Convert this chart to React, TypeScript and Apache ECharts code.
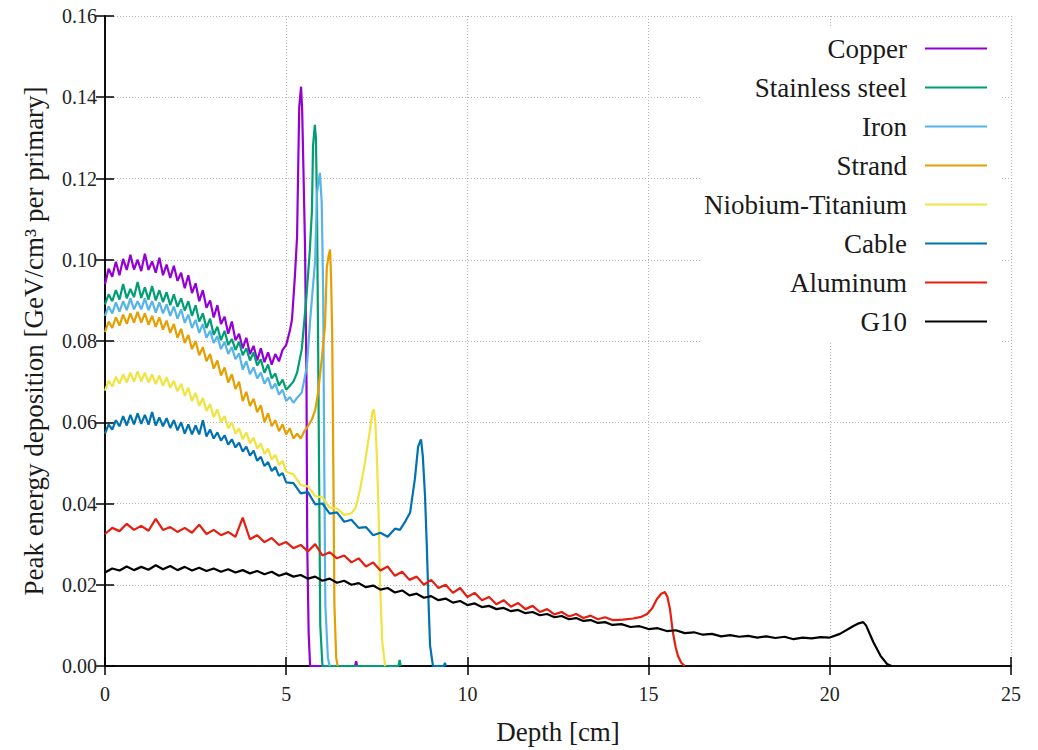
import React, { useEffect, useRef } from "react";
import * as echarts from "echarts";

const FONT = "Liberation Serif";

const seriesNames = [
  "Copper",
  "Stainless steel",
  "Iron",
  "Strand",
  "Niobium-Titanium",
  "Cable",
  "Aluminum",
  "G10",
];
const seriesColors = ["#9400d3", "#009e73", "#56b4e9", "#e69f00", "#f0e442", "#0072b2", "#e51e10", "#000000"];

type Pt = [number, number];

const copper: Pt[] = [
  [0.0, 0.094], [0.1, 0.0978], [0.2, 0.0958], [0.3, 0.0995], [0.4, 0.0962], [0.5, 0.1002], [0.6, 0.0975], [0.7, 0.1012],
  [0.8, 0.0976], [0.9, 0.1], [1.0, 0.0972], [1.1, 0.1015], [1.2, 0.0975], [1.3, 0.0996], [1.4, 0.0968], [1.5, 0.1005],
  [1.6, 0.0962], [1.7, 0.0988], [1.8, 0.0955], [1.9, 0.0985], [2.0, 0.0948], [2.1, 0.0968], [2.2, 0.093], [2.3, 0.0962],
  [2.4, 0.0918], [2.5, 0.0942], [2.6, 0.0898], [2.7, 0.0925], [2.8, 0.0882], [2.9, 0.09], [3.0, 0.0858], [3.1, 0.0888],
  [3.2, 0.0842], [3.3, 0.086], [3.4, 0.0818], [3.5, 0.0848], [3.6, 0.0802], [3.7, 0.0818], [3.8, 0.0782], [3.9, 0.0808],
  [4.0, 0.0768], [4.1, 0.0788], [4.2, 0.0752], [4.3, 0.0782], [4.4, 0.0748], [4.5, 0.0772], [4.6, 0.0742], [4.7, 0.0768],
  [4.8, 0.075], [4.9, 0.0778], [5.0, 0.079], [5.1, 0.0825], [5.16, 0.0853], [5.24, 0.0959], [5.3, 0.1057], [5.33, 0.122],
  [5.36, 0.1377], [5.41, 0.1426], [5.44, 0.137], [5.47, 0.1246], [5.52, 0.103], [5.56, 0.07], [5.58, 0.03], [5.62, 0.008],
  [5.66, 0.0], [6.9, 0.0], [6.93, 0.0012], [6.96, 0.0],
];

const stainless: Pt[] = [
  [0.0, 0.089], [0.1, 0.0915], [0.2, 0.0898], [0.3, 0.0925], [0.4, 0.0902], [0.5, 0.094], [0.6, 0.0905], [0.7, 0.0928],
  [0.8, 0.0908], [0.9, 0.0945], [1.0, 0.0906], [1.1, 0.0932], [1.2, 0.0902], [1.3, 0.0935], [1.4, 0.09], [1.5, 0.0925],
  [1.6, 0.0896], [1.7, 0.092], [1.8, 0.0888], [1.9, 0.0915], [2.0, 0.0884], [2.1, 0.0905], [2.2, 0.0875], [2.3, 0.0898],
  [2.4, 0.0862], [2.5, 0.0888], [2.6, 0.0848], [2.7, 0.0868], [2.8, 0.0832], [2.9, 0.0855], [3.0, 0.0815], [3.1, 0.0835],
  [3.2, 0.0802], [3.3, 0.0825], [3.4, 0.079], [3.5, 0.0805], [3.6, 0.0778], [3.7, 0.0798], [3.8, 0.0765], [3.9, 0.0782],
  [4.0, 0.0752], [4.1, 0.0772], [4.2, 0.074], [4.3, 0.0755], [4.4, 0.0722], [4.5, 0.0742], [4.6, 0.0708], [4.7, 0.072],
  [4.8, 0.069], [4.9, 0.0705], [5.0, 0.068], [5.1, 0.069], [5.2, 0.07], [5.3, 0.0722], [5.43, 0.078], [5.55, 0.09],
  [5.65, 0.102], [5.71, 0.112], [5.74, 0.128], [5.79, 0.1332], [5.82, 0.13], [5.85, 0.113], [5.88, 0.08], [5.91, 0.045],
  [5.94, 0.01], [6.0, 0.0], [8.1, 0.0], [8.13, 0.0015], [8.16, 0.0],
];

const iron: Pt[] = [
  [0.0, 0.0862], [0.1, 0.0885], [0.2, 0.0868], [0.3, 0.0895], [0.4, 0.0872], [0.5, 0.0898], [0.6, 0.0876], [0.7, 0.0905],
  [0.8, 0.0878], [0.9, 0.0898], [1.0, 0.0878], [1.1, 0.0905], [1.2, 0.0876], [1.3, 0.0898], [1.4, 0.087], [1.5, 0.0895],
  [1.6, 0.0868], [1.7, 0.089], [1.8, 0.0862], [1.9, 0.0885], [2.0, 0.0855], [2.1, 0.0878], [2.2, 0.0845], [2.3, 0.0865],
  [2.4, 0.0832], [2.5, 0.0852], [2.6, 0.082], [2.7, 0.0842], [2.8, 0.0808], [2.9, 0.0825], [3.0, 0.0795], [3.1, 0.0812],
  [3.2, 0.078], [3.3, 0.0798], [3.4, 0.0768], [3.5, 0.0785], [3.6, 0.0755], [3.7, 0.077], [3.8, 0.073], [3.9, 0.075],
  [4.0, 0.0718], [4.1, 0.0735], [4.2, 0.0708], [4.3, 0.0722], [4.4, 0.0695], [4.5, 0.071], [4.6, 0.0682], [4.7, 0.0695],
  [4.8, 0.0668], [4.9, 0.068], [5.0, 0.0652], [5.1, 0.0662], [5.2, 0.0648], [5.3, 0.066], [5.43, 0.0673], [5.57, 0.0737],
  [5.66, 0.085], [5.8, 0.1], [5.85, 0.1165], [5.93, 0.1214], [5.98, 0.114], [6.02, 0.092], [6.05, 0.05], [6.08, 0.015],
  [6.15, 0.002], [6.2, 0.0],
];

const strand: Pt[] = [
  [0.0, 0.0822], [0.1, 0.0848], [0.2, 0.0832], [0.3, 0.0858], [0.4, 0.0838], [0.5, 0.0865], [0.6, 0.0842], [0.7, 0.0868],
  [0.8, 0.0845], [0.9, 0.0872], [1.0, 0.0845], [1.1, 0.0868], [1.2, 0.084], [1.3, 0.0862], [1.4, 0.0835], [1.5, 0.0858],
  [1.6, 0.0828], [1.7, 0.085], [1.8, 0.082], [1.9, 0.0842], [2.0, 0.0808], [2.1, 0.083], [2.2, 0.0795], [2.3, 0.0815],
  [2.4, 0.078], [2.5, 0.08], [2.6, 0.0765], [2.7, 0.0785], [2.8, 0.075], [2.9, 0.0768], [3.0, 0.0732], [3.1, 0.0752],
  [3.2, 0.0715], [3.3, 0.0735], [3.4, 0.0698], [3.5, 0.0718], [3.6, 0.0682], [3.7, 0.07], [3.8, 0.0652], [3.9, 0.0675],
  [4.0, 0.064], [4.1, 0.0658], [4.2, 0.0625], [4.3, 0.0642], [4.4, 0.06], [4.5, 0.0622], [4.6, 0.059], [4.7, 0.0605],
  [4.8, 0.0578], [4.9, 0.0595], [5.0, 0.057], [5.1, 0.0585], [5.2, 0.056], [5.3, 0.0572], [5.4, 0.056], [5.5, 0.0578],
  [5.6, 0.059], [5.71, 0.0607], [5.8, 0.063], [5.88, 0.0673], [5.98, 0.0755], [6.07, 0.0836], [6.12, 0.098], [6.17, 0.101],
  [6.21, 0.1025], [6.24, 0.095], [6.27, 0.081], [6.3, 0.05], [6.33, 0.015], [6.38, 0.002], [6.42, 0.0],
];

const niobiumTitanium: Pt[] = [
  [0.0, 0.0678], [0.1, 0.0702], [0.2, 0.0688], [0.3, 0.0712], [0.4, 0.0695], [0.5, 0.0718], [0.6, 0.0698], [0.7, 0.0722],
  [0.8, 0.07], [0.9, 0.0725], [1.0, 0.07], [1.1, 0.0722], [1.2, 0.0698], [1.3, 0.0718], [1.4, 0.0694], [1.5, 0.0715],
  [1.6, 0.069], [1.7, 0.071], [1.8, 0.0685], [1.9, 0.0702], [2.0, 0.0676], [2.1, 0.0695], [2.2, 0.0665], [2.3, 0.0685],
  [2.4, 0.0652], [2.5, 0.0672], [2.6, 0.064], [2.7, 0.066], [2.8, 0.0628], [2.9, 0.0645], [3.0, 0.0612], [3.1, 0.0632],
  [3.2, 0.06], [3.3, 0.0615], [3.4, 0.0585], [3.5, 0.06], [3.6, 0.0572], [3.7, 0.0585], [3.8, 0.0558], [3.9, 0.0575],
  [4.0, 0.0548], [4.1, 0.0562], [4.2, 0.0535], [4.3, 0.0548], [4.4, 0.0522], [4.5, 0.0535], [4.6, 0.0508], [4.7, 0.052],
  [4.8, 0.0495], [4.9, 0.0505], [5.0, 0.0478], [5.2, 0.0472], [5.4, 0.0445], [5.6, 0.0442], [5.8, 0.0418], [6.0, 0.0415],
  [6.2, 0.039], [6.4, 0.0388], [6.6, 0.0372], [6.8, 0.0376], [6.92, 0.039], [7.04, 0.0435], [7.17, 0.05], [7.31, 0.058],
  [7.38, 0.0625], [7.42, 0.0632], [7.46, 0.06], [7.5, 0.052], [7.55, 0.038], [7.59, 0.02], [7.65, 0.006], [7.73, 0.0],
];

const cable: Pt[] = [
  [0.0, 0.0572], [0.1, 0.0595], [0.2, 0.0582], [0.3, 0.0605], [0.4, 0.059], [0.5, 0.0615], [0.6, 0.0592], [0.7, 0.0618],
  [0.8, 0.0595], [0.9, 0.0622], [1.0, 0.0596], [1.1, 0.0618], [1.2, 0.0594], [1.3, 0.0625], [1.4, 0.0592], [1.5, 0.0612],
  [1.6, 0.059], [1.7, 0.061], [1.8, 0.0586], [1.9, 0.0605], [2.0, 0.058], [2.1, 0.06], [2.2, 0.0572], [2.3, 0.0595],
  [2.4, 0.057], [2.5, 0.0592], [2.6, 0.057], [2.7, 0.0605], [2.8, 0.0565], [2.9, 0.0582], [3.0, 0.056], [3.1, 0.0575],
  [3.2, 0.0555], [3.3, 0.0568], [3.4, 0.0545], [3.5, 0.0558], [3.6, 0.0538], [3.7, 0.055], [3.8, 0.0528], [3.9, 0.054],
  [4.0, 0.0518], [4.1, 0.053], [4.2, 0.0505], [4.3, 0.0515], [4.4, 0.0492], [4.5, 0.0502], [4.6, 0.048], [4.7, 0.049],
  [4.8, 0.0468], [4.9, 0.0475], [5.0, 0.0452], [5.2, 0.045], [5.4, 0.0425], [5.6, 0.0428], [5.8, 0.0398], [6.0, 0.04],
  [6.2, 0.0375], [6.4, 0.0378], [6.6, 0.0355], [6.8, 0.036], [7.0, 0.034], [7.2, 0.0342], [7.4, 0.0322], [7.6, 0.0328],
  [7.8, 0.0318], [8.0, 0.0338], [8.14, 0.0335], [8.3, 0.0358], [8.42, 0.0378], [8.55, 0.046], [8.64, 0.054], [8.72, 0.0558],
  [8.77, 0.0516], [8.83, 0.042], [8.88, 0.0295], [8.93, 0.015], [8.97, 0.005], [9.05, 0.0], [9.35, 0.0], [9.38, 0.0008],
  [9.41, 0.0],
];

const aluminum: Pt[] = [
  [0.0, 0.0325], [0.2, 0.034], [0.4, 0.0332], [0.6, 0.035], [0.8, 0.0335], [1.0, 0.0345], [1.2, 0.0333], [1.4, 0.0362],
  [1.6, 0.0335], [1.8, 0.0342], [2.0, 0.033], [2.2, 0.034], [2.4, 0.0328], [2.6, 0.0348], [2.8, 0.0325], [3.0, 0.0335],
  [3.2, 0.0322], [3.4, 0.033], [3.6, 0.0318], [3.8, 0.0365], [4.0, 0.0312], [4.2, 0.0322], [4.4, 0.0305], [4.6, 0.0315],
  [4.8, 0.0298], [5.0, 0.0305], [5.2, 0.029], [5.4, 0.0298], [5.6, 0.0282], [5.8, 0.03], [6.0, 0.0272], [6.2, 0.028],
  [6.4, 0.0265], [6.6, 0.0272], [6.8, 0.0255], [7.0, 0.0265], [7.2, 0.0245], [7.4, 0.0255], [7.6, 0.0235], [7.8, 0.0245],
  [8.0, 0.0222], [8.2, 0.0232], [8.4, 0.0212], [8.6, 0.022], [8.8, 0.02], [9.0, 0.0212], [9.2, 0.0192], [9.4, 0.02],
  [9.6, 0.018], [9.8, 0.0192], [10.0, 0.017], [10.2, 0.018], [10.4, 0.0162], [10.6, 0.017], [10.8, 0.0152], [11.0, 0.0162],
  [11.2, 0.0146], [11.4, 0.0155], [11.6, 0.014], [11.8, 0.0148], [12.0, 0.0133], [12.2, 0.014], [12.4, 0.0127], [12.6, 0.0133],
  [12.8, 0.0122], [13.0, 0.0128], [13.2, 0.0118], [13.4, 0.0124], [13.6, 0.0115], [13.8, 0.012], [14.0, 0.0113], [14.3, 0.0114],
  [14.57, 0.0117], [14.8, 0.0121], [14.96, 0.0128], [15.1, 0.0142], [15.23, 0.0165], [15.35, 0.0178], [15.45, 0.0182], [15.52, 0.017],
  [15.59, 0.014], [15.67, 0.0083], [15.75, 0.0045], [15.81, 0.0025], [15.9, 0.0008], [16.0, 0.0],
];

const g10: Pt[] = [
  [0.0, 0.023], [0.2, 0.024], [0.4, 0.0235], [0.6, 0.0245], [0.8, 0.0236], [1.0, 0.0244], [1.2, 0.0237], [1.4, 0.0248],
  [1.6, 0.0238], [1.8, 0.0246], [2.0, 0.0236], [2.2, 0.0244], [2.4, 0.0235], [2.6, 0.0242], [2.8, 0.0234], [3.0, 0.024],
  [3.2, 0.0232], [3.4, 0.0238], [3.6, 0.023], [3.8, 0.0236], [4.0, 0.0228], [4.2, 0.0234], [4.4, 0.0226], [4.6, 0.0232],
  [4.8, 0.0222], [5.0, 0.0228], [5.2, 0.022], [5.4, 0.0224], [5.6, 0.0215], [5.8, 0.022], [6.0, 0.021], [6.2, 0.0215],
  [6.4, 0.0205], [6.6, 0.021], [6.8, 0.02], [7.0, 0.0204], [7.2, 0.0194], [7.4, 0.0198], [7.6, 0.0188], [7.8, 0.0192],
  [8.0, 0.0181], [8.2, 0.0186], [8.4, 0.0174], [8.6, 0.0178], [8.8, 0.0168], [9.0, 0.0172], [9.2, 0.0162], [9.4, 0.0166],
  [9.6, 0.0156], [9.8, 0.016], [10.0, 0.015], [10.2, 0.0154], [10.4, 0.0145], [10.6, 0.0148], [10.8, 0.014], [11.0, 0.0143],
  [11.2, 0.0135], [11.4, 0.0138], [11.6, 0.013], [11.8, 0.0133], [12.0, 0.0125], [12.2, 0.0128], [12.4, 0.012], [12.6, 0.0123],
  [12.8, 0.0115], [13.0, 0.0118], [13.2, 0.0111], [13.4, 0.0113], [13.6, 0.0106], [13.8, 0.0108], [14.0, 0.0101], [14.25, 0.0103],
  [14.5, 0.0096], [14.75, 0.0098], [15.0, 0.0091], [15.25, 0.0093], [15.5, 0.0086], [15.75, 0.0088], [16.0, 0.0081], [16.25, 0.0083],
  [16.5, 0.0077], [16.75, 0.0079], [17.0, 0.0073], [17.25, 0.0076], [17.5, 0.0072], [17.75, 0.0074], [18.0, 0.007], [18.25, 0.0073],
  [18.5, 0.0069], [18.75, 0.0072], [19.0, 0.0066], [19.25, 0.007], [19.5, 0.0068], [19.75, 0.0071], [20.0, 0.007], [20.28, 0.0079],
  [20.64, 0.0098], [20.8, 0.0105], [20.92, 0.0108], [21.0, 0.01], [21.2, 0.0059], [21.4, 0.0025], [21.58, 0.0005], [21.7, 0.0],
];

const seriesData: Pt[][] = [copper, stainless, iron, strand, niobiumTitanium, cable, aluminum, g10];

const xMin = 0;
const xMax = 25;
const xStep = 5;
const yMin = 0;
const yMax = 0.16;
const yStep = 0.02;

export default function App() {
  const ref = useRef<HTMLDivElement>(null);

  useEffect(() => {
    document.body.style.margin = "0";
    if (!ref.current) return;
    const chart = echarts.init(ref.current, undefined, { renderer: "svg" });

    const axisLine = { show: true, lineStyle: { color: "#000", width: 1.5 } };
    const tick = { show: true, inside: true, length: 9, lineStyle: { color: "#000", width: 1.5 } };
    const split = { show: true, lineStyle: { color: "#b4b4b4", width: 1, type: [1, 2] as any } };

    chart.setOption({
      animation: false,
      backgroundColor: "#ffffff",
      textStyle: { fontFamily: FONT },
      grid: { left: 105, right: 27, top: 16, bottom: 83, containLabel: false },
      legend: {
        data: seriesNames,
        orient: "vertical",
        right: 38,
        top: 28,
        align: "right",
        icon: "rect",
        itemWidth: 62,
        itemHeight: 2,
        itemGap: 12,
        padding: [7, 13, 7, 4],
        backgroundColor: "#ffffff",
        selectedMode: false,
        textStyle: { fontFamily: FONT, fontSize: 27, color: "#1a1a1a", lineHeight: 27, padding: [0, 13, 0, 0] },
      },
      xAxis: [
        {
          type: "value",
          min: xMin,
          max: xMax,
          interval: xStep,
          position: "bottom",
          axisLine,
          axisTick: tick,
          splitLine: split,
          axisLabel: { fontFamily: FONT, fontSize: 20, color: "#222", margin: 18 },
          name: "Depth [cm]",
          nameLocation: "middle",
          nameGap: 52,
          nameTextStyle: { fontFamily: FONT, fontSize: 27, color: "#1a1a1a" },
        },
        {
          type: "value",
          min: xMin,
          max: xMax,
          interval: xStep,
          position: "top",
          axisLine,
          axisTick: tick,
          splitLine: { show: false },
          axisLabel: { show: false },
        },
      ],
      yAxis: [
        {
          type: "value",
          min: yMin,
          max: yMax,
          interval: yStep,
          position: "left",
          axisLine,
          axisTick: tick,
          splitLine: split,
          axisLabel: {
            fontFamily: FONT,
            fontSize: 20,
            color: "#222",
            margin: 8,
            formatter: (v: number) => v.toFixed(2),
          },
          name: "Peak energy deposition [GeV/cm³ per primary]",
          nameLocation: "middle",
          nameRotate: 90,
          nameGap: 58,
          nameTextStyle: { fontFamily: FONT, fontSize: 27, color: "#1a1a1a" },
        },
        {
          type: "value",
          min: yMin,
          max: yMax,
          interval: yStep,
          position: "right",
          axisLine,
          axisTick: tick,
          splitLine: { show: false },
          axisLabel: { show: false },
        },
      ],
      series: seriesNames.map((name, i) => ({
        name,
        type: "line",
        xAxisIndex: 0,
        yAxisIndex: 0,
        data: seriesData[i],
        showSymbol: false,
        symbol: "none",
        color: seriesColors[i],
        lineStyle: { color: seriesColors[i], width: 2.2 },
        z: 2 + i * 0.01,
      })),
    });

    return () => chart.dispose();
  }, []);

  return <div ref={ref} style={{ width: 1038, height: 750 }} />;
}
